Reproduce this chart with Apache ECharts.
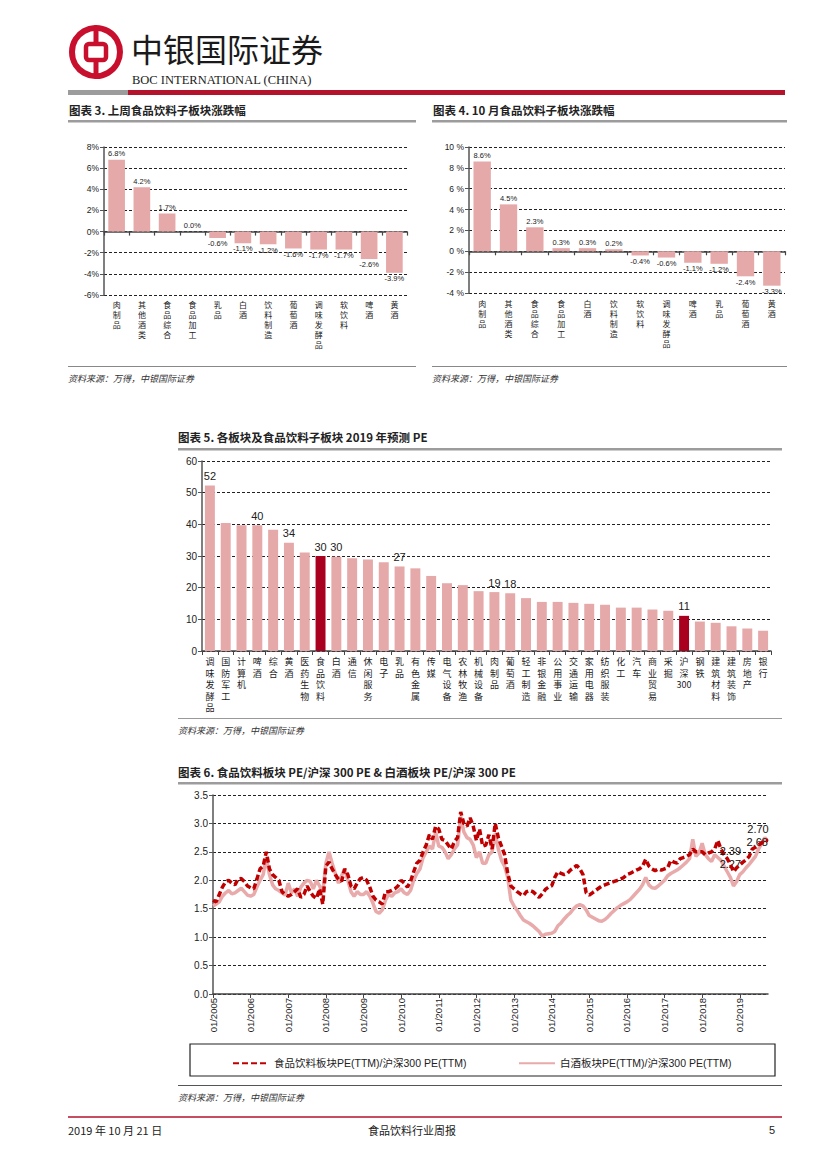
<!DOCTYPE html>
<html><head><meta charset="utf-8">
<script src="https://cdn.jsdelivr.net/npm/echarts@6/dist/echarts.min.js"></script>
<style>html,body{margin:0;padding:0;background:#fff}#c{width:827px;height:1169px}</style>
</head><body><div id="c"></div>
<script>
// ---------------- DATA ----------------
const weekCats = ['肉制品','其他酒类','食品综合','食品加工','乳品','白酒','饮料制造','葡萄酒','调味发酵品','软饮料','啤酒','黄酒'];
const weekVals = [6.8, 4.2, 1.7, 0.0, -0.6, -1.1, -1.2, -1.6, -1.7, -1.7, -2.6, -3.9];

const monthCats = ['肉制品','其他酒类','食品综合','食品加工','白酒','饮料制造','软饮料','调味发酵品','啤酒','乳品','葡萄酒','黄酒'];
const monthVals = [8.6, 4.5, 2.3, 0.3, 0.3, 0.2, -0.4, -0.6, -1.1, -1.2, -2.4, -3.3];

const peCats = ['调味发酵品','国防军工','计算机','啤酒','综合','黄酒','医药生物','食品饮料','白酒','通信','休闲服务','电子','乳品','有色金属','传媒','电气设备','农林牧渔','机械设备','肉制品','葡萄酒','轻工制造','非银金融','公用事业','交通运输','家用电器','纺织服装','化工','汽车','商业贸易','采掘','沪深300','钢铁','建筑材料','建筑装饰','房地产','银行'];
const peVals = [52.3, 40.4, 39.7, 39.7, 38.3, 34.2, 31.1, 30.0, 29.8, 29.3, 28.9, 28.0, 26.7, 26.1, 23.7, 21.4, 20.8, 18.9, 18.6, 18.2, 16.7, 15.5, 15.5, 15.2, 14.9, 14.6, 13.7, 13.7, 13.1, 12.7, 11.1, 9.3, 8.9, 7.8, 7.1, 6.4];
const peHighlight = ['食品饮料','沪深300'];
const peLabeled = ['调味发酵品','啤酒','黄酒','食品饮料','白酒','乳品','肉制品','葡萄酒','沪深300'];

// monthly, 01/2005 .. 10/2019
const foodRel = [
 1.65,1.62,1.75,1.88,1.97,2.00,1.95,1.92,2.02,2.03,1.98,1.90,
 1.87,1.85,2.02,2.20,2.25,2.50,2.20,2.10,2.05,2.00,1.80,1.75,
 1.72,1.75,1.80,1.85,1.70,1.75,1.90,1.80,1.72,1.68,1.85,1.58,
 2.25,2.32,2.20,2.10,2.02,1.98,2.20,2.10,1.90,1.85,1.95,2.03,
 2.05,2.00,1.88,1.72,1.65,1.62,1.58,1.80,1.80,1.82,1.85,1.90,
 2.00,1.95,1.88,1.98,2.15,2.30,2.35,2.50,2.62,2.80,2.72,2.95,
 2.90,2.72,2.70,2.62,2.55,2.68,2.75,3.20,3.00,2.95,3.10,2.95,
 2.70,2.90,2.60,2.62,2.80,2.55,3.00,2.75,2.60,2.45,2.12,1.90,
 1.85,1.80,1.76,1.73,1.80,1.82,1.80,1.75,1.70,1.76,1.84,1.88,
 1.90,2.05,2.15,2.12,2.10,2.12,2.18,2.22,2.26,2.20,2.10,1.78,
 1.74,1.78,1.82,1.86,1.90,1.92,1.94,1.96,1.98,2.00,2.02,2.05,
 2.10,2.12,2.15,2.18,2.20,2.25,2.37,2.25,2.20,2.17,2.20,2.18,
 2.20,2.22,2.35,2.32,2.30,2.38,2.40,2.42,2.45,2.55,2.50,2.50,
 2.50,2.45,2.48,2.50,2.55,2.70,2.55,2.45,2.38,2.28,2.15,2.22,
 2.27,2.32,2.36,2.42,2.55,2.58,2.62,2.66,2.70,2.70
];
const baijiuRel = [
 1.55,1.58,1.62,1.72,1.78,1.82,1.76,1.78,1.82,1.86,1.80,1.74,
 1.72,1.75,1.88,2.00,2.10,2.40,2.10,1.92,1.85,1.82,1.78,1.74,
 1.95,1.78,1.85,1.72,1.88,1.95,2.00,1.98,1.85,2.00,1.90,1.78,
 2.30,2.50,2.30,2.12,1.95,2.08,2.20,2.00,1.80,1.72,1.80,1.75,
 1.75,1.80,1.72,1.60,1.45,1.42,1.48,1.65,1.75,1.72,1.78,1.80,
 1.85,1.78,1.75,1.82,2.00,2.12,2.20,2.40,2.50,2.60,2.55,2.85,
 2.60,2.58,2.50,2.38,2.45,2.55,2.62,3.12,2.85,2.75,2.72,2.62,
 2.40,2.50,2.30,2.30,2.45,2.50,2.82,2.55,2.35,2.25,2.05,1.65,
 1.55,1.47,1.38,1.30,1.27,1.24,1.20,1.15,1.10,1.02,1.05,1.06,
 1.07,1.10,1.20,1.25,1.32,1.38,1.43,1.50,1.55,1.57,1.55,1.48,
 1.38,1.35,1.32,1.29,1.28,1.31,1.36,1.42,1.47,1.52,1.56,1.59,
 1.62,1.66,1.72,1.78,1.84,1.92,2.05,1.92,1.87,1.86,1.90,1.95,
 2.00,2.08,2.12,2.15,2.18,2.22,2.27,2.32,2.38,2.72,2.42,2.48,
 2.65,2.45,2.38,2.33,2.45,2.40,2.35,2.25,2.15,2.05,1.90,1.98,
 2.10,2.15,2.22,2.28,2.35,2.42,2.55,2.65,2.75,2.68
];
const foodLabels = {'10/2018':'2.39', '10/2019':'2.70'};
const baijiuLabels = {'10/2018':'2.27', '10/2019':'2.68'};
const foodName = '食品饮料板块PE(TTM)/沪深300 PE(TTM)';
const baijiuName = '白酒板块PE(TTM)/沪深300 PE(TTM)';

// ---------------- HELPERS ----------------
const months = [];
for (let y = 2005; y <= 2019; y++) for (let m = 1; m <= 12; m++) {
  if (months.length < foodRel.length) months.push((m < 10 ? '0' + m : '' + m) + '/' + y);
}
const LAT = "'Liberation Sans Narrow','Arial Narrow','Liberation Sans',Arial,'Noto Sans CJK SC',sans-serif";
const MIX = "'Liberation Sans','Noto Sans CJK SC',sans-serif";
const CJK = "'Noto Sans CJK SC','Liberation Sans',sans-serif";
const PINK = '#E6A9A9', DARK = '#A8001E';
const vert = s => s.match(/[0-9A-Za-z]+|./g).join('\n');
const dashGrid = {show:true, lineStyle:{color:'#222', type:[3,2], width:1}};

function T(x, y, text, o) {
  o = o || {};
  return {type:'text', x:x, y:y, silent:true, style:{text:text, fill:o.fill||'#222',
    font:(o.style||'normal') + ' ' + (o.weight||'normal') + ' ' + (o.size||12) + 'px ' + (o.family||CJK),
    align:o.align||'left', verticalAlign:'middle'}};
}
function L(x1, y1, x2, y2, color, w) {
  return {type:'line', silent:true, shape:{x1:x1,y1:y1,x2:x2,y2:y2}, style:{stroke:color, lineWidth:w}};
}
function R(x, y, w, h, color) {
  return {type:'rect', silent:true, shape:{x:x,y:y,width:w,height:h}, style:{fill:color}};
}

function barAxisPair(gi, cats, fs, lh, mg) {
  return [
    {type:'category', gridIndex:gi, data:cats.map(vert), position:'bottom',
     axisLine:{show:false, onZero:false}, axisTick:{show:false},
     axisLabel:{interval:0, fontSize:fs, lineHeight:lh, color:'#222', margin:mg, fontFamily:CJK}},
    {type:'category', gridIndex:gi, data:cats, position:'bottom',
     axisLine:{show:true, onZero:true, lineStyle:{color:'#444', width:1.5}},
     axisTick:{show:true, interval:0, length:4, lineStyle:{color:'#444', width:1.2}},
     axisLabel:{show:false}}
  ];
}
function pctBars(vals, xi, yi) {
  return {type:'bar', xAxisIndex:xi, yAxisIndex:yi, barWidth:'66%', itemStyle:{color:PINK},
    data: vals.map(v => ({value:v, label:{position: v < 0 ? 'bottom' : 'top'}})),
    label:{show:true, fontSize:7.5, color:'#222', distance:2, fontFamily:LAT,
      formatter: p => p.value.toFixed(1) + '%'}};
}

// ---------------- CHART ----------------
const chart = echarts.init(document.getElementById('c'), null, {renderer:'svg', width:827, height:1169});

const graphics = [
  // logo
  {type:'circle', silent:true, shape:{cx:96, cy:52, r:24}, style:{fill:'none', stroke:'#C8102E', lineWidth:6}},
  R(93.5, 27, 5, 50, '#C8102E'),
  {type:'rect', silent:true, shape:{x:86, y:44, width:20, height:16, r:3}, style:{fill:'#fff', stroke:'#C8102E', lineWidth:4.5}},
  T(131, 48, '中银国际证券', {size:32, fill:'#1a1a1a'}),
  T(132, 80, 'BOC INTERNATIONAL (CHINA)', {size:12.5, family:"'Liberation Serif','DejaVu Serif',serif", fill:'#222'}),
  R(68, 90, 60, 5, '#9C9C9C'),
  R(128, 90, 657, 5, '#B3132B'),
  // chart 3 / 4 titles
  T(69, 110, '图表 3. 上周食品饮料子板块涨跌幅', {size:11.5, weight:'bold'}),
  R(68, 120, 348, 2.5, '#9C9C9C'),
  T(433, 110, '图表 4. 10 月食品饮料子板块涨跌幅', {size:11.5, weight:'bold'}),
  R(432, 120, 355, 2.5, '#9C9C9C'),
  L(68, 366.5, 416, 366.5, '#888', 1),
  L(432, 366.5, 787, 366.5, '#888', 1),
  T(68, 378, '资料来源：万得，中银国际证券', {size:9, style:'italic', fill:'#333'}),
  T(432, 378, '资料来源：万得，中银国际证券', {size:9, style:'italic', fill:'#333'}),
  // chart 5
  T(178, 437, '图表 5. 各板块及食品饮料子板块 2019 年预测 PE', {size:11.5, weight:'bold'}),
  R(178, 448, 604, 2.5, '#9C9C9C'),
  L(178, 718.5, 782, 718.5, '#999', 1),
  T(178, 730, '资料来源：万得，中银国际证券', {size:9, style:'italic', fill:'#333'}),
  // chart 6
  T(178, 772, '图表 6. 食品饮料板块 PE/沪深 300 PE & 白酒板块 PE/沪深 300 PE', {size:11.5, weight:'bold'}),
  R(178, 782, 604, 2.5, '#9C9C9C'),
  {type:'rect', silent:true, shape:{x:190, y:1044, width:585, height:32}, style:{fill:'none', stroke:'#222', lineWidth:1.2}},
  L(178, 1085.5, 782, 1085.5, '#555', 1),
  T(178, 1097, '资料来源：万得，中银国际证券', {size:9, style:'italic', fill:'#333'}),
  // footer
  L(68, 1117, 782, 1117, '#B3132B', 1.5),
  T(68, 1130, '2019 年 10 月 21 日', {size:11}),
  T(412, 1130, '食品饮料行业周报', {size:11, align:'center'}),
  T(775, 1130, '5', {size:11, align:'right', family:MIX})
];

const xAxes = [].concat(
  barAxisPair(0, weekCats, 8, 10, 4),
  barAxisPair(1, monthCats, 8, 10, 5),
  [{type:'category', gridIndex:2, data:peCats.map(vert), position:'bottom',
    axisLine:{show:true, lineStyle:{color:'#444', width:1.5}},
    axisTick:{show:true, interval:0, length:4, lineStyle:{color:'#444'}},
    axisLabel:{interval:0, fontSize:9, lineHeight:11.5, color:'#222', margin:5, fontFamily:CJK}},
   {type:'category', gridIndex:3, data:months, boundaryGap:false, position:'bottom',
    axisLine:{show:true, lineStyle:{color:'#444', width:1.5}},
    axisTick:{show:true, interval:11, length:4, lineStyle:{color:'#444'}},
    axisLabel:{interval:11, rotate:90, fontSize:9.5, color:'#222', margin:4, fontFamily:LAT}}]
);
const yBase = (gi, min, max, itv, fmt, fs) => ({type:'value', gridIndex:gi, min:min, max:max, interval:itv,
  axisLine:{show:true, lineStyle:{color:'#555', width:1.5}},
  axisTick:{show:true, length:4, lineStyle:{color:'#555'}},
  splitLine:dashGrid,
  axisLabel:{fontSize:fs, color:'#222', margin:5, fontFamily:LAT, formatter:fmt}});

function lineData(vals, labels, cfg) {
  return vals.map((v, i) => {
    const t = labels[months[i]];
    if (!t) return v;
    return {value:v, label:Object.assign({show:true, formatter:t}, cfg[t])};
  });
}

const option = {
  animation:false,
  textStyle:{fontFamily:MIX},
  grid:[
    {left:104, top:147, width:303, height:148},
    {left:469, top:147, width:316, height:146},
    {left:202, top:461, width:569, height:190},
    {left:213, top:795, width:555, height:199}
  ],
  xAxis:xAxes,
  yAxis:[
    yBase(0, -6, 8, 2, v => v + '%', 8.5),
    yBase(1, -4, 10, 2, v => v + ' %', 8.5),
    yBase(2, 0, 60, 10, v => v, 10),
    yBase(3, 0, 3.5, 0.5, v => v.toFixed(1), 10)
  ],
  legend:[
    {data:[foodName], left:227, top:1053, itemWidth:36, itemHeight:12, itemStyle:{opacity:0},
     textStyle:{fontSize:10.5, color:'#222', fontFamily:MIX}},
    {data:[baijiuName], left:513, top:1053, itemWidth:36, itemHeight:12, itemStyle:{opacity:0},
     textStyle:{fontSize:10.5, color:'#222', fontFamily:MIX}}
  ],
  graphic:graphics,
  series:[
    pctBars(weekVals, 0, 0),
    pctBars(monthVals, 2, 1),
    {type:'bar', xAxisIndex:4, yAxisIndex:2, barWidth:'63%',
     data: peVals.map((v, i) => ({value:v,
       itemStyle:{color: peHighlight.includes(peCats[i]) ? DARK : PINK},
       label:{show: peLabeled.includes(peCats[i])}})),
     label:{position:'top', fontSize:11, color:'#222', distance:4, fontFamily:LAT,
       formatter: p => Math.round(p.value)}},
    {type:'line', name:baijiuName, xAxisIndex:5, yAxisIndex:3, symbol:'circle', symbolSize:0,
     showSymbol:true, showAllSymbol:true, z:3,
     lineStyle:{color:'#E8AAAA', width:3.5}, itemStyle:{color:'#E8AAAA'},
     label:{fontSize:11, color:'#111', fontFamily:MIX},
     data: lineData(baijiuRel, baijiuLabels, {'2.68':{position:'left', distance:0}, '2.27':{position:'top', distance:8}})},
    {type:'line', name:foodName, xAxisIndex:5, yAxisIndex:3, symbol:'circle', symbolSize:0,
     showSymbol:true, showAllSymbol:true, z:4,
     lineStyle:{color:'#C00000', width:3.5, type:[6,3]}, itemStyle:{color:'#C00000'},
     label:{fontSize:11, color:'#111', fontFamily:MIX},
     data: lineData(foodRel, foodLabels, {'2.70':{position:'top', distance:6, offset:[-10,0]}, '2.39':{position:'top', distance:8}})}
  ]
};
chart.setOption(option);
</script>
</body></html>
